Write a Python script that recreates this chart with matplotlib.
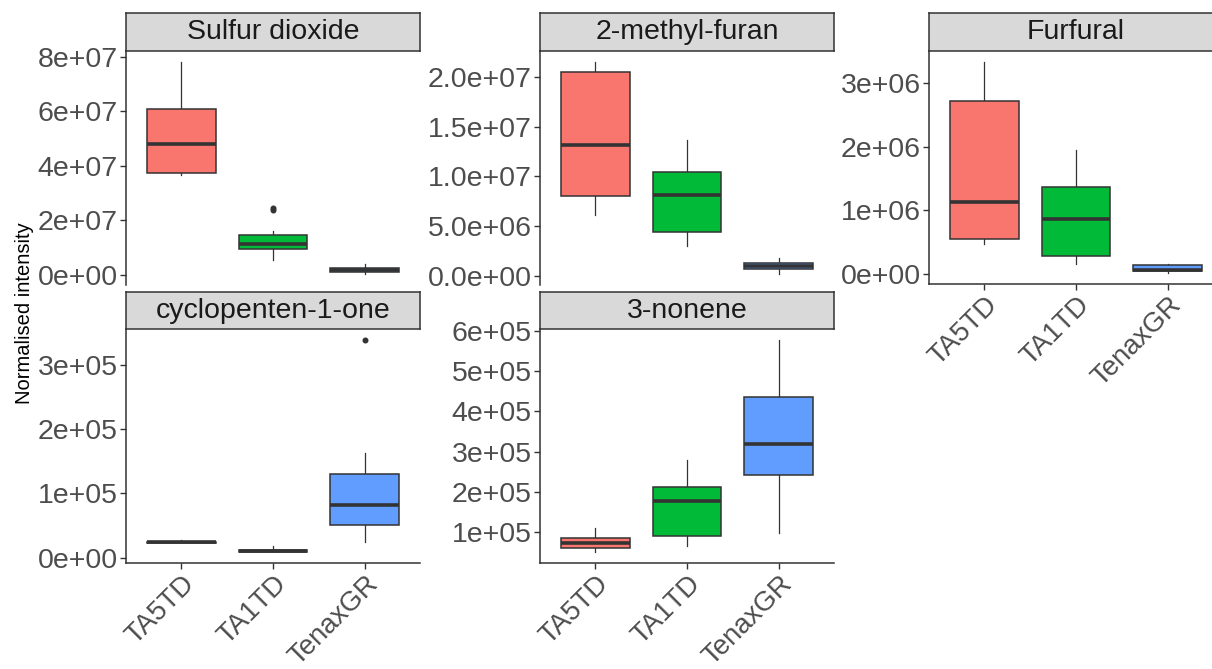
import matplotlib
matplotlib.use("Agg")
import matplotlib.pyplot as plt

plt.rcParams['font.family'] = ['Liberation Sans', 'DejaVu Sans']

groups = ["TA5TD", "TA1TD", "TenaxGR"]
colors = ["#F8766D", "#00BA38", "#619CFF"]
compounds = ["Sulfur dioxide", "2-methyl-furan", "Furfural", "cyclopenten-1-one", "3-nonene"]

# box statistics per compound (order: TA5TD, TA1TD, TenaxGR)
so2_whislo = [3.67e7, 5.5e6, 2.0e5]
so2_q1 = [3.74e7, 9.5e6, 1.1e6]
so2_med = [4.79e7, 1.14e7, 1.65e6]
so2_q3 = [6.09e7, 1.47e7, 2.6e6]
so2_whishi = [7.82e7, 1.61e7, 4.0e6]
so2_out = [[], [2.38e7, 2.46e7], []]

mf_whislo = [6.13e6, 3.0e6, 2.0e5]
mf_q1 = [8.04e6, 4.42e6, 7.0e5]
mf_med = [1.317e7, 8.14e6, 1.0e6]
mf_q3 = [2.05e7, 1.04e7, 1.3e6]
mf_whishi = [2.15e7, 1.367e7, 1.8e6]
mf_out = [[], [], []]

fu_whislo = [4.7e5, 1.7e5, 1.5e4]
fu_q1 = [5.6e5, 2.8e5, 5.5e4]
fu_med = [1.125e6, 8.6e5, 6.7e4]
fu_q3 = [2.72e6, 1.36e6, 1.4e5]
fu_whishi = [3.33e6, 1.95e6, 1.7e5]
fu_out = [[], [], []]

cp_whislo = [2.2e4, 8.0e3, 2.35e4]
cp_q1 = [2.3e4, 9.0e3, 5.0e4]
cp_med = [2.35e4, 1.05e4, 8.2e4]
cp_q3 = [2.4e4, 1.2e4, 1.30e5]
cp_whishi = [2.8e4, 1.8e4, 1.63e5]
cp_out = [[], [], [3.39e5]]

nn_whislo = [5.0e4, 6.5e4, 9.75e4]
nn_q1 = [6.0e4, 9.0e4, 2.43e5]
nn_med = [7.25e4, 1.78e5, 3.2e5]
nn_q3 = [8.5e4, 2.13e5, 4.35e5]
nn_whishi = [1.1e5, 2.8e5, 5.78e5]
nn_out = [[], [], []]

so2_ticks = [0, 2e7, 4e7, 6e7, 8e7]
so2_labels = ["0e+00", "2e+07", "4e+07", "6e+07", "8e+07"]
mf_ticks = [0, 5e6, 1e7, 1.5e7, 2e7]
mf_labels = ["0.0e+00", "5.0e+06", "1.0e+07", "1.5e+07", "2.0e+07"]
fu_ticks = [0, 1e6, 2e6, 3e6]
fu_labels = ["0e+00", "1e+06", "2e+06", "3e+06"]
cp_ticks = [0, 1e5, 2e5, 3e5]
cp_labels = ["0e+00", "1e+05", "2e+05", "3e+05"]
nn_ticks = [1e5, 2e5, 3e5, 4e5, 5e5, 6e5]
nn_labels = ["1e+05", "2e+05", "3e+05", "4e+05", "5e+05", "6e+05"]

panel_data = [
    (so2_whislo, so2_q1, so2_med, so2_q3, so2_whishi, so2_out, so2_ticks, so2_labels),
    (mf_whislo, mf_q1, mf_med, mf_q3, mf_whishi, mf_out, mf_ticks, mf_labels),
    (fu_whislo, fu_q1, fu_med, fu_q3, fu_whishi, fu_out, fu_ticks, fu_labels),
    (cp_whislo, cp_q1, cp_med, cp_q3, cp_whishi, cp_out, cp_ticks, cp_labels),
    (nn_whislo, nn_q1, nn_med, nn_q3, nn_whishi, nn_out, nn_ticks, nn_labels),
]

W, H = 1212, 669
fig = plt.figure(figsize=(W / 100, H / 100), dpi=100)

# layout in pixels: (x0, x1, strip_top, plot_top, plot_bottom, show_x)
layout = [
    (126, 420, 13, 51, 285, False),
    (540, 834, 13, 51, 285, False),
    (929, 1223, 13, 51, 284, True),
    (126, 420, 292, 329, 563, True),
    (540, 834, 292, 329, 563, True),
]

dark = "#333333"
tickcol = "#4D4D4D"
fs = 20.5
fsx = 19.8

for name, (x0, x1, st, pt, pb, showx), data in zip(compounds, layout, panel_data):
    wl, q1, md, q3, wh, out, ticks, labels = data
    ax = fig.add_axes([x0 / W, 1 - pb / H, (x1 - x0) / W, (pb - pt) / H])
    stats = []
    for i in range(3):
        stats.append(dict(whislo=wl[i], q1=q1[i], med=md[i], q3=q3[i], whishi=wh[i],
                          fliers=out[i], label=groups[i]))
    bp = ax.bxp(stats, positions=[1, 2, 3], widths=0.75, patch_artist=True,
                showcaps=False, showfliers=True,
                boxprops=dict(edgecolor=dark, linewidth=1.1),
                medianprops=dict(color=dark, linewidth=2.6, solid_capstyle='butt'),
                whiskerprops=dict(color=dark, linewidth=0.9),
                flierprops=dict(marker='o', markersize=3.3, markerfacecolor=dark,
                                markeredgecolor=dark, linestyle='none'))
    for patch, c in zip(bp['boxes'], colors):
        patch.set_facecolor(c)
        patch.set_zorder(2)
    for w in bp['whiskers']:
        w.set_zorder(1)
    for m in bp['medians']:
        m.set_zorder(3)

    allv = wl + wh + [v for o in out for v in o]
    lo, hi = min(allv), max(allv)
    pad = 0.05 * (hi - lo)
    ax.set_ylim(lo - pad, hi + pad)
    ax.set_xlim(0.4, 3.6)
    ax.set_yticks(ticks)
    ax.set_yticklabels(labels, fontsize=fs, color=tickcol)
    ax.tick_params(axis='y', length=4, width=1, color=dark, pad=2)
    for s in ['top', 'right']:
        ax.spines[s].set_visible(False)
    ax.spines['left'].set_color(dark)
    ax.spines['left'].set_linewidth(1.1)
    if showx:
        ax.spines['bottom'].set_color(dark)
        ax.spines['bottom'].set_linewidth(1.1)
        ax.set_xticks([1, 2, 3])
        ax.set_xticklabels(groups, fontsize=fsx, color=tickcol, rotation=45,
                           ha='right', va='top', rotation_mode='anchor')
        ax.tick_params(axis='x', length=4, width=1, color=dark, pad=1.5)
    else:
        ax.spines['bottom'].set_visible(False)
        ax.set_xticks([])
    ax.set_facecolor('white')

    sax = fig.add_axes([x0 / W, 1 - pt / H, (x1 - x0) / W, (pt - st) / H])
    sax.set_facecolor('#D9D9D9')
    sax.set_xticks([])
    sax.set_yticks([])
    for s in sax.spines.values():
        s.set_color(dark)
        s.set_linewidth(1.1)
    sax.text(0.5, 0.5, name, transform=sax.transAxes, ha='center', va='center',
             fontsize=fs, color='#1A1A1A')

fig.text(25 / W, 1 - 313 / H, "Normalised intensity", rotation=90, ha='center',
         va='center', fontsize=14.5, color='black')

fig.savefig("out.png", dpi=100)
